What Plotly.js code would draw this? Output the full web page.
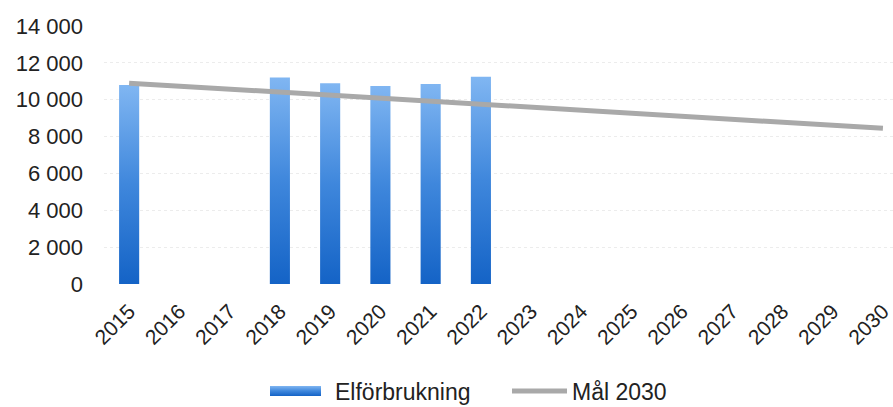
<!DOCTYPE html>
<html><head><meta charset="utf-8">
<script src="https://cdn.plot.ly/plotly-3.0.1.min.js"></script>
<style>html,body{margin:0;padding:0;background:#fff;}#chart{width:893px;height:407px;}</style>
</head><body><div id="chart"></div>
<script>
const years = ['2015','2016','2017','2018','2019','2020','2021','2022','2023','2024','2025','2026','2027','2028','2029','2030'];
const barYears = ['2015','2018','2019','2020','2021','2022'];
const elforbrukning = [10800, 11200, 10900, 10750, 10850, 11250];
const goalYears = ['2015','2030'];
const goalValues = [10900, 8450];
const yTicks = [0,2000,4000,6000,8000,10000,12000,14000];

const traces = [
  {type:'bar', name:'Elförbrukning', x:barYears, y:elforbrukning,
   marker:{color:'#3a84dc', line:{width:0}}, hoverinfo:'x+y'},
  {type:'scatter', mode:'lines', name:'Mål 2030', x:goalYears, y:goalValues,
   line:{color:'#a9a9a9', width:5}}
];
const layout = {
  width:893, height:407,
  margin:{l:104, r:0, t:26, b:123},
  paper_bgcolor:'#fff', plot_bgcolor:'#fff',
  font:{family:'"Liberation Sans", Arial, sans-serif', size:22, color:'#222'},
  separators:', ',
  bargap:0.6,
  showlegend:true,
  legend:{orientation:'h', xref:'container', yref:'container', x:270/893, xanchor:'left',
          y:16/407, yanchor:'middle', entrywidth:167, entrywidthmode:'pixels',
          font:{size:23, color:'#222'}, itemwidth:55, traceorder:'normal'},
  xaxis:{type:'category', categoryorder:'array', categoryarray:years, tickvals:years,
         range:[-0.5, 15.2], tickangle:-45, showgrid:false, showline:false, zeroline:false,
         automargin:false, ticks:'', ticklabelstandoff:10, tickfont:{size:21, color:'#222'}},
  yaxis:{range:[0,14000], tickvals:yTicks, tickformat:',d', showgrid:true, automargin:false,
         gridcolor:'#ececec', griddash:'dot', gridwidth:1, zeroline:false, showline:false,
         ticks:'', ticklabelstandoff:20, tickfont:{size:22, color:'#222'}}
};
Plotly.newPlot('chart', traces, layout, {displayModeBar:false, staticPlot:true}).then(function(gd){
  const svg = gd.querySelector('svg.main-svg');
  const ns = 'http://www.w3.org/2000/svg';
  let defs = svg.querySelector('defs');
  if(!defs){defs = document.createElementNS(ns,'defs'); svg.insertBefore(defs, svg.firstChild);}
  const lg = document.createElementNS(ns,'linearGradient');
  lg.setAttribute('id','barGrad'); lg.setAttribute('x1','0'); lg.setAttribute('y1','0');
  lg.setAttribute('x2','0'); lg.setAttribute('y2','1');
  [['0','#80b6f2'],['0.5','#3f87dc'],['1','#1463c6']].forEach(function(s){
    const st = document.createElementNS(ns,'stop');
    st.setAttribute('offset',s[0]); st.setAttribute('stop-color',s[1]); lg.appendChild(st);
  });
  defs.appendChild(lg);
  gd.querySelectorAll('.barlayer .point path').forEach(function(p){ p.style.fill = 'url(#barGrad)'; });
  // widen the bar legend swatch
  const items = gd.querySelectorAll('.legend .traces');
  if(items.length){
    const item = items[0];
    const txt = item.querySelector('text.legendtext');
    const path = item.querySelector('.legendpoints path');
    if(txt && path){
      const tr = txt.getBoundingClientRect();
      const pr = path.getBoundingClientRect();
      const cx = pr.left + pr.width/2;
      const right = tr.left - 14 - cx;
      const left = right - 52;
      path.setAttribute('d','M'+left+',5H'+right+'V-5H'+left+'Z');
      path.style.fill = 'url(#barGrad)';
    }
  }
});
</script></body></html>
